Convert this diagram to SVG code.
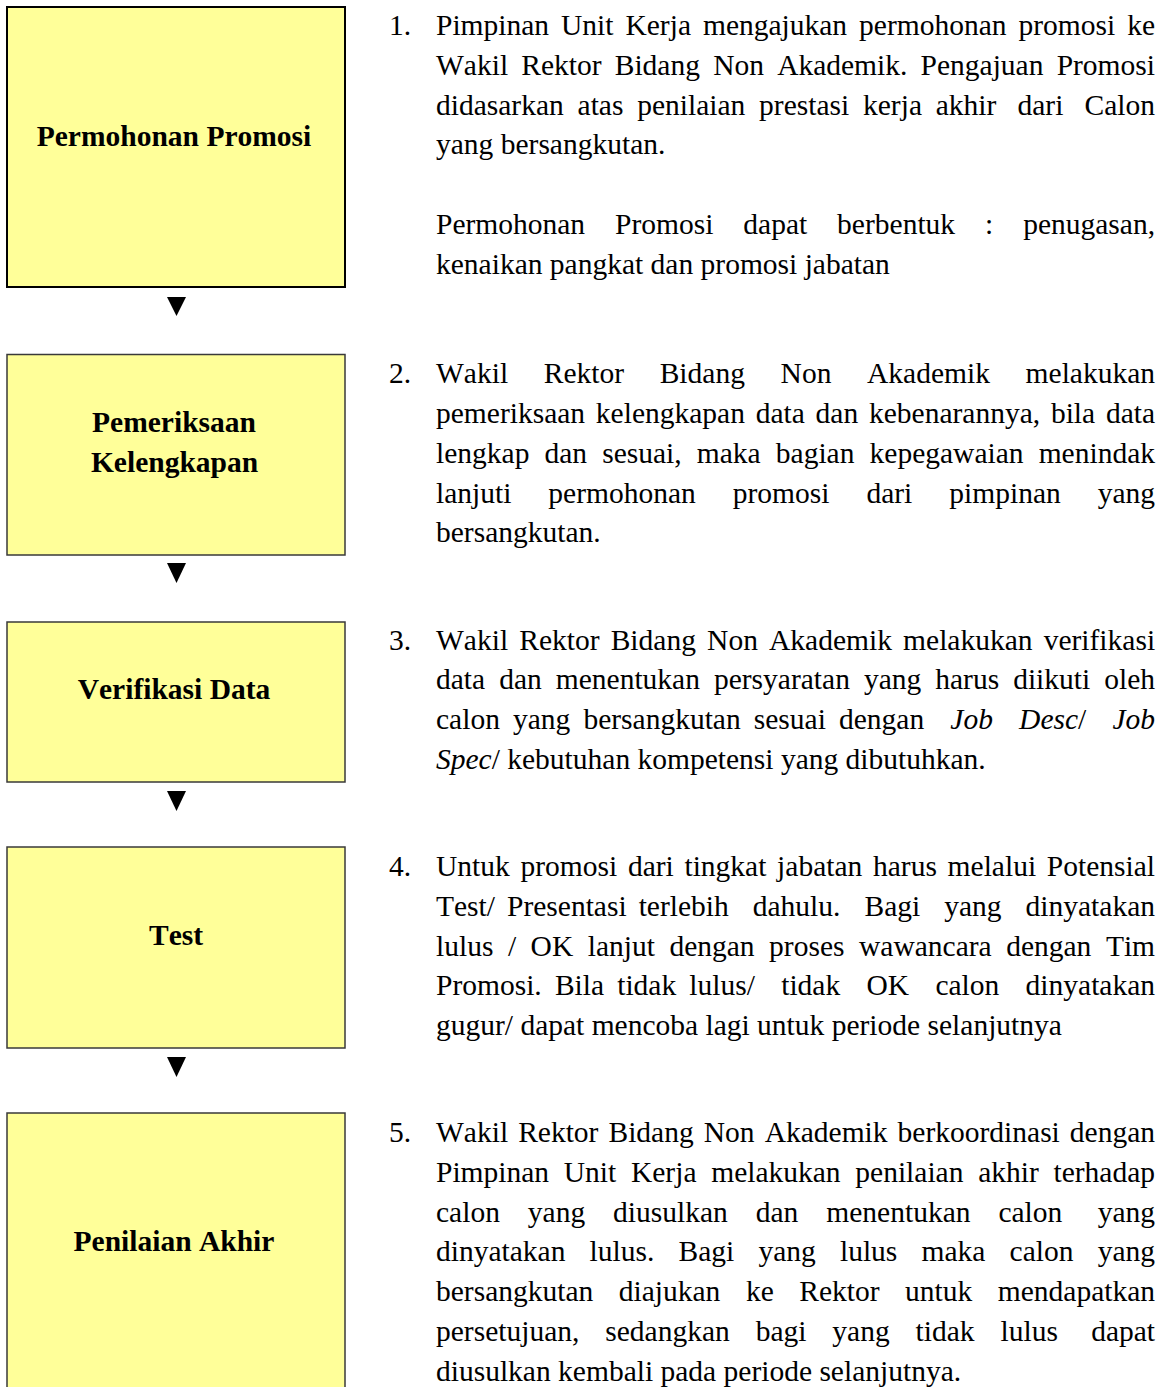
<svg xmlns="http://www.w3.org/2000/svg" width="1164" height="1387" viewBox="0 0 1164 1387">
<style>
.box{fill:#ffff99;stroke:#3a3a3a;stroke-width:1.5}
.box1{stroke:#000;stroke-width:2}
.lbl{font-family:"Liberation Serif","Times New Roman",serif;font-size:29.5px;font-weight:bold;text-anchor:middle;fill:#000;font-kerning:none;font-variant-ligatures:none}
.t{font-family:"Liberation Serif","Times New Roman",serif;font-size:29.5px;fill:#000;font-kerning:none;font-variant-ligatures:none}
.i{font-style:italic}
.arrow{fill:#000}
</style>
<rect width="1164" height="1387" fill="#fff"/>

<g id="n1">
<rect class="box box1" x="7" y="7" width="338" height="280"/>
<text class="lbl" x="174" y="145.7">Permohonan Promosi</text>
</g>
<g id="n2">
<rect class="box" x="7" y="354.5" width="338" height="200.5"/>
<text class="lbl" x="174" y="431.7">Pemeriksaan</text>
<text class="lbl" x="174.5" y="472">Kelengkapan</text>
</g>
<g id="n3">
<rect class="box" x="7" y="622" width="338" height="160"/>
<text class="lbl" x="174" y="699">Verifikasi Data</text>
</g>
<g id="n4">
<rect class="box" x="7" y="847" width="338" height="201"/>
<text class="lbl" x="176" y="945">Test</text>
</g>
<g id="n5">
<rect class="box" x="7" y="1113" width="338" height="290"/>
<text class="lbl" x="174" y="1250.7">Penilaian Akhir</text>
</g>

<g id="connectors">
<polygon class="arrow" points="167,297 186,297 176.5,316"/>
<polygon class="arrow" points="167,563 186,563 176.5,583"/>
<polygon class="arrow" points="167,791 186,791 176.5,811"/>
<polygon class="arrow" points="167,1057 186,1057 176.5,1077"/>
</g>

<g id="desc1">
<text class="t" x="389" y="35">1.</text>
<text class="t" x="436" y="35" word-spacing="4.59">Pimpinan Unit Kerja mengajukan permohonan promosi ke</text>
<text class="t" x="436" y="74.8" word-spacing="5.81">Wakil Rektor Bidang Non Akademik. Pengajuan Promosi</text>
<text class="t" x="436" y="114.6" word-spacing="6.41">didasarkan atas penilaian prestasi kerja akhir <tspan dx="7.375">dari</tspan> <tspan dx="7.375">Calon</tspan></text>
<text class="t" x="436" y="154.3">yang bersangkutan.</text>
<text class="t" x="436" y="233.9" word-spacing="22.55">Permohonan Promosi dapat berbentuk : penugasan,</text>
<text class="t" x="436" y="273.7">kenaikan pangkat dan promosi jabatan</text>
</g>

<g id="desc2">
<text class="t" x="389" y="383.3">2.</text>
<text class="t" x="436" y="383.3" word-spacing="28.29">Wakil Rektor Bidang Non Akademik melakukan</text>
<text class="t" x="436" y="423.1" word-spacing="3.40">pemeriksaan kelengkapan data dan kebenarannya, bila data</text>
<text class="t" x="436" y="462.9" word-spacing="7.75">lengkap dan sesuai, maka bagian kepegawaian menindak</text>
<text class="t" x="436" y="502.6" word-spacing="29.6">lanjuti permohonan promosi dari pimpinan yang</text>
<text class="t" x="436" y="542.4">bersangkutan.</text>
</g>

<g id="desc3">
<text class="t" x="389" y="649.5">3.</text>
<text class="t" x="436" y="649.5" word-spacing="3.79">Wakil Rektor Bidang Non Akademik melakukan verifikasi</text>
<text class="t" x="436" y="689.3" word-spacing="6.64">data dan menentukan persyaratan yang harus diikuti oleh</text>
<text class="t" x="436" y="729.1" word-spacing="5.71" xml:space="preserve">calon yang bersangkutan sesuai dengan  <tspan class="i">Job</tspan>  <tspan class="i">Desc</tspan>/  <tspan class="i">Job</tspan></text>
<text class="t" x="436" y="768.8"><tspan class="i">Spec</tspan>/ kebutuhan kompetensi yang dibutuhkan.</text>
</g>

<g id="desc4">
<text class="t" x="389" y="876">4.</text>
<text class="t" x="436" y="876" word-spacing="3.34">Untuk promosi dari tingkat jabatan harus melalui Potensial</text>
<text class="t" x="436" y="915.8" word-spacing="4.64" xml:space="preserve">Test/ Presentasi terlebih  dahulu.  Bagi  yang  dinyatakan</text>
<text class="t" x="436" y="955.6" word-spacing="7.14">lulus / OK lanjut dengan proses wawancara dengan Tim</text>
<text class="t" x="436" y="995.3" word-spacing="5.78" xml:space="preserve">Promosi. Bila tidak lulus/  tidak  OK  calon  dinyatakan</text>
<text class="t" x="436" y="1035.1">gugur/ dapat mencoba lagi untuk periode selanjutnya</text>
</g>

<g id="desc5">
<text class="t" x="389" y="1142">5.</text>
<text class="t" x="436" y="1142" word-spacing="2.69">Wakil Rektor Bidang Non Akademik berkoordinasi dengan</text>
<text class="t" x="436" y="1181.8" word-spacing="7.34">Pimpinan Unit Kerja melakukan penilaian akhir terhadap</text>
<text class="t" x="436" y="1221.6" word-spacing="20.57">calon yang diusulkan dan menentukan calon <tspan dx="7.375">yang</tspan></text>
<text class="t" x="436" y="1261.3" word-spacing="16.81">dinyatakan lulus. Bagi yang lulus maka calon yang</text>
<text class="t" x="436" y="1301.1" word-spacing="18.14">bersangkutan diajukan ke Rektor untuk mendapatkan</text>
<text class="t" x="436" y="1340.9" word-spacing="18.53">persetujuan, sedangkan bagi yang tidak lulus <tspan dx="7.375">dapat</tspan></text>
<text class="t" x="436" y="1380.7">diusulkan kembali pada periode selanjutnya.</text>
</g>
</svg>
